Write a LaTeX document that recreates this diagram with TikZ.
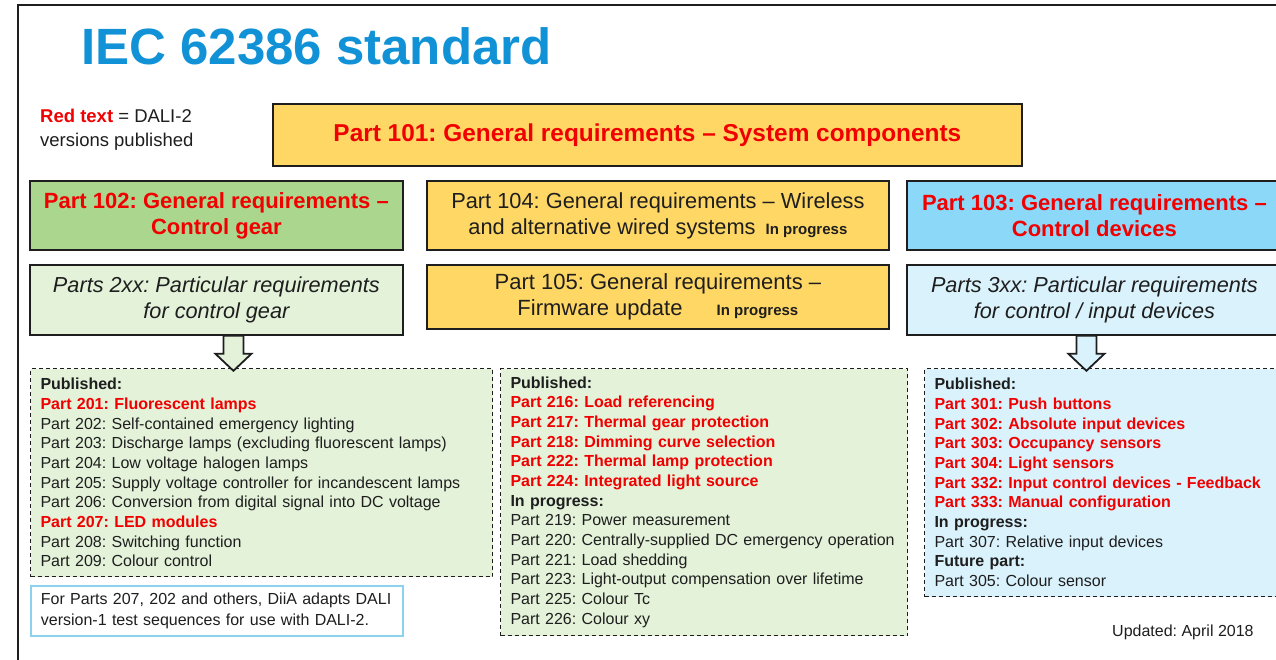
\documentclass[tikz,border=0pt]{standalone}
\usepackage{fontspec}
\setmainfont{Liberation Sans}
\usepackage{tikz}
\usetikzlibrary{arrows}
\frenchspacing
\definecolor{titleblue}{RGB}{18,146,214}
\definecolor{partred}{RGB}{240,0,0}
\definecolor{ink}{RGB}{30,30,30}
\definecolor{gold}{RGB}{255,215,100}
\definecolor{gear}{RGB}{170,214,142}
\definecolor{gearlight}{RGB}{228,242,218}
\definecolor{dev}{RGB}{140,216,248}
\definecolor{devlight}{RGB}{218,242,252}
\definecolor{noteline}{RGB}{140,210,236}
\tikzset{partbox/.style={draw=ink, line width=1.8pt, anchor=north west, inner sep=0pt, align=center, text=ink}}
\tikzset{listbox/.style={draw=ink, line width=1pt, dash pattern=on 4pt off 3pt, anchor=north west, inner xsep=10pt, inner ysep=0pt, align=left, text=ink, font=\fontsize{16}{19.65}\selectfont}}
\tikzset{blockarrow/.style={draw=ink, line width=1.8pt, line join=miter}}
\newcommand{\red}[1]{\textcolor{partred}{\bfseries #1}}
\newcommand{\busy}{{\bfseries\fontsize{15}{18}\selectfont In progress}}

\begin{document}
\begin{tikzpicture}[x=1pt, y=-1pt]
    \useasboundingbox (0,0) rectangle (1276,659);
    \clip (0,0) rectangle (1276,659);
    \draw[ink, line width=2pt] (1290,5) -- (18,5) -- (18,670);
    \node[anchor=base west, inner sep=0pt, text=titleblue, font=\bfseries\fontsize{51}{60}\selectfont] (title) at (81,64) {IEC 62386 standard};
    \node[anchor=north west, inner sep=0pt, align=left, text=ink, font=\fontsize{18.5}{23.5}\selectfont] (legend) at (40,109) {\red{Red text} = DALI-2\\versions published};
    % system level
    \node[partbox, fill=gold, minimum width=749pt, minimum height=62pt, font=\bfseries\fontsize{24.4}{28}\selectfont, text=partred] (p101) at (272,103) {Part 101: General requirements -- System components};
    % general requirements
    \node[partbox, fill=gear, minimum width=373pt, minimum height=69pt, font=\bfseries\fontsize{22}{26}\selectfont, text=partred] (p102) at (29,180) {Part 102: General requirements --\\Control gear};
    \node[partbox, fill=gold, minimum width=462pt, minimum height=69pt, font=\fontsize{21.8}{26}\selectfont] (p104) at (426,180) {Part 104: General requirements -- Wireless\\and alternative wired systems \hspace{4pt}\busy};
    \node[partbox, fill=dev, minimum width=375pt, minimum height=69pt, font=\bfseries\fontsize{22}{26}\selectfont, text=partred] (p103) at (906,180) {Part 103: General requirements --\\Control devices};
    % particular requirements
    \node[partbox, fill=gearlight, minimum width=373pt, minimum height=70pt, font=\itshape\fontsize{21.7}{26}\selectfont] (p2xx) at (29,264) {Parts 2xx: Particular requirements\\for control gear};
    \node[partbox, fill=gold, minimum width=462pt, minimum height=64pt, font=\fontsize{22}{26.5}\selectfont] (p105) at (426,264) {Part 105: General requirements --\\Firmware update \hspace{28pt}\busy};
    \node[partbox, fill=devlight, minimum width=375pt, minimum height=70pt, font=\itshape\fontsize{21.7}{26}\selectfont] (p3xx) at (906,264) {Parts 3xx: Particular requirements\\for control / input devices};
    % part lists
    \node[listbox, fill=gearlight, text width=442pt, minimum height=208pt] (gearlist) at (30,368) {\textbf{Published:}\\
        \red{Part 201: Fluorescent lamps}\\
        Part 202: Self-contained emergency lighting\\
        Part 203: Discharge lamps (excluding fluorescent lamps)\\
        Part 204: Low voltage halogen lamps\\
        Part 205: Supply voltage controller for incandescent lamps\\
        Part 206: Conversion from digital signal into DC voltage\\
        \red{Part 207: LED modules}\\
        Part 208: Switching function\\
        Part 209: Colour control};
    \node[listbox, fill=gearlight, text width=387pt, minimum height=267pt] (morelist) at (500,368) {\textbf{Published:}\\
        \red{Part 216: Load referencing}\\
        \red{Part 217: Thermal gear protection}\\
        \red{Part 218: Dimming curve selection}\\
        \red{Part 222: Thermal lamp protection}\\
        \red{Part 224: Integrated light source}\\
        \textbf{In progress:}\\
        Part 219: Power measurement\\
        Part 220: Centrally-supplied DC emergency operation\\
        Part 221: Load shedding\\
        Part 223: Light-output compensation over lifetime\\
        Part 225: Colour Tc\\
        Part 226: Colour xy};
    \node[listbox, fill=devlight, text width=345pt, minimum height=228pt] (devlist) at (924,368) {\textbf{Published:}\\
        \red{Part 301: Push buttons}\\
        \red{Part 302: Absolute input devices}\\
        \red{Part 303: Occupancy sensors}\\
        \red{Part 304: Light sensors}\\
        \red{Part 332: Input control devices - Feedback}\\
        \red{Part 333: Manual configuration}\\
        \textbf{In progress:}\\
        Part 307: Relative input devices\\
        \textbf{Future part:}\\
        Part 305: Colour sensor};
    \node[draw=noteline, line width=1.8pt, fill=white, anchor=north west, inner xsep=10pt, inner ysep=0pt, text width=352pt, minimum height=50pt, align=left, text=ink, font=\fontsize{16}{21}\selectfont] (note) at (30,585) {For Parts 207, 202 and others, DiiA adapts DALI\\version-1 test sequences for use with DALI-2.};
    \node[anchor=base west, inner sep=0pt, text=ink, font=\fontsize{16}{18}\selectfont] (updated) at (1112,636) {Updated: April 2018};
    % hollow arrows down to the lists
    \draw[blockarrow, fill=gearlight] ([xshift=7pt]p2xx.south) -- ++(0,18) -- ++(-8,0) -- ++(18,17) -- ++(18,-17) -- ++(-8,0) -- ++(0,-18) -- cycle;
    \draw[blockarrow, fill=devlight] ([xshift=-18pt]p3xx.south) -- ++(0,18) -- ++(-8,0) -- ++(18,17) -- ++(18,-17) -- ++(-8,0) -- ++(0,-18) -- cycle;
\end{tikzpicture}
\end{document}
